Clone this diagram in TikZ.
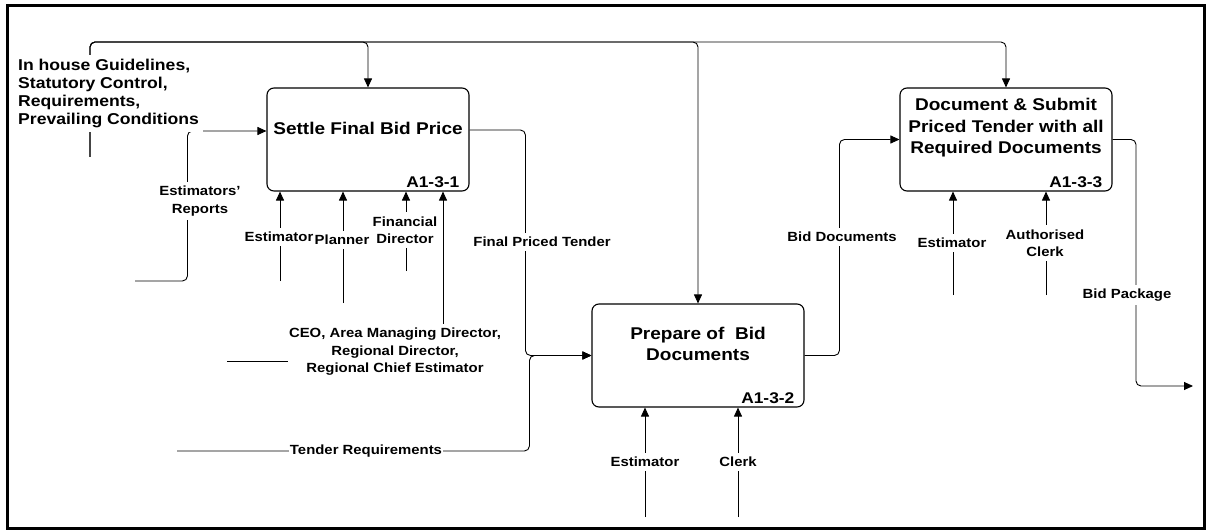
\documentclass[tikz,border=0pt]{standalone}
\usepackage{fontspec}
\setmainfont[FakeStretch=1.12]{Liberation Sans}
\usetikzlibrary{arrows.meta,calc}

\begin{document}
\begin{tikzpicture}[x=1pt,y=-1pt,
        box/.style={draw,rounded corners=7pt,line width=1.1pt,minimum width=#1,minimum height=103pt},
        box/.default=212pt,
        title/.style={font=\fontsize{17}{21.5}\selectfont\bfseries,align=center},
        code/.style={font=\fontsize{15.5}{18}\selectfont\bfseries,anchor=base east,inner sep=0pt},
        lab/.style={font=\fontsize{13.3}{17.5}\selectfont\bfseries,align=center,fill=white,inner xsep=1pt,inner ysep=4pt},
        flow/.style={-{Triangle[length=9pt,width=8pt]},line width=0.9pt,rounded corners=5pt},
        wire/.style={line width=0.9pt,rounded corners=5pt}]

    \useasboundingbox (0,0) rectangle (1211,532);
    \draw[line width=3pt] (7,6) rectangle (1204,528);

    % Activity boxes
    \node[box=202pt] (b1) at (368,139.5) {};
    \node[box] (b2) at (698,355.5) {};
    \node[box] (b3) at (1006,139.5) {};

    \node[title] (t1) at ($(b1)+(0,-11.5)$) {Settle Final Bid Price};
    \node[title] (t2) at ($(b2)+(0,-11.5)$) {Prepare of\ \ Bid\\Documents};
    \node[title] (t3) at ($(b3)+(0,-11.5)$) {Document \& Submit\\Priced Tender with all\\Required Documents};

    \node[code] (c1) at ($(b1.south east)+(-10,-4.5)$) {A1-3-1};
    \node[code] (c2) at ($(b2.south east)+(-10,-4.5)$) {A1-3-2};
    \node[code] (c3) at ($(b3.south east)+(-10,-4.5)$) {A1-3-3};

    % Controls
    \coordinate (ctrl) at (90,157);
    \coordinate (ctop) at (90,42);
    \draw[flow] (ctrl) -- (ctop) -| (b1.north);
    \draw[flow] (ctrl) -- (ctop) -| (b2.north);
    \draw[flow] (ctrl) -- (ctop) -| (b3.north);

    % Inputs and outputs
    \coordinate (rep) at (135,281);
    \coordinate (tend) at (177,451);
    \coordinate (pkg) at (1193,386);
    \draw[flow] (rep) -| ($(b1.west)+(-79,-8.5)$) -- ($(b1.west)+(0,-8.5)$);
    \draw[flow] ($(b1.east)+(0,-9.5)$) -| ([xshift=-66pt]b2.west) -- (b2.west);
    \draw[flow] (tend) -| ([xshift=-62pt]b2.west) -- (b2.west);
    \draw[flow] (b2.east) -| ([xshift=-60pt]b3.west) -- (b3.west);
    \draw[flow] (b3.east) -| ([xshift=-57pt]pkg) -- (pkg);

    % Mechanisms
    \coordinate (est1) at (280,281);
    \coordinate (plan1) at (343,303);
    \coordinate (fin1) at (406,271);
    \coordinate (ceo1) at (443,325);
    \coordinate (est2) at (645,517);
    \coordinate (clerk2) at (738,517);
    \coordinate (est3) at (953,295);
    \coordinate (clerk3) at (1046,295);
    \draw[flow] (est1) -- (est1 |- b1.south);
    \draw[flow] (plan1) -- (plan1 |- b1.south);
    \draw[flow] (fin1) -- (fin1 |- b1.south);
    \draw[flow] (ceo1) -- (ceo1 |- b1.south);
    \draw[flow] (est2) -- (est2 |- b2.south);
    \draw[flow] (clerk2) -- (clerk2 |- b2.south);
    \draw[flow] (est3) -- (est3 |- b3.south);
    \draw[flow] (clerk3) -- (clerk3 |- b3.south);

    % Labels
    \node[lab,font=\fontsize{15.7}{18}\selectfont\bfseries,align=left,anchor=north west,inner sep=4pt] (guide) at (14,55)
        {In house Guidelines,\\Statutory Control,\\Requirements,\\Prevailing Conditions};
    \node[lab] (lrep) at (200,201) {Estimators'\\Reports};
    \node[lab] (lest1) at (279,237) {Estimator};
    \node[lab] (lplan1) at (342,240) {Planner};
    \node[lab] (lfin1) at (405,230) {Financial\\Director};
    \node[lab] (lceo) at (395,352) {CEO, Area Managing Director,\\Regional Director,\\Regional Chief Estimator};
    \node[lab] (lfpt) at (542,242) {Final Priced Tender};
    \node[lab] (ltend) at (366,451) {Tender Requirements};
    \node[lab] (lest2) at (645,462) {Estimator};
    \node[lab] (lclerk2) at (738,462) {Clerk};
    \node[lab] (lbid) at (842,237) {Bid Documents};
    \node[lab] (lest3) at (952,243) {Estimator};
    \node[lab] (lclerk3) at (1045,243) {Authorised\\Clerk};
    \node[lab] (lpkg) at (1127,295) {Bid Package};

    \coordinate (ceoend) at (227,361);
    \draw[wire] (ceoend) -- (ceoend -| lceo.west);

\end{tikzpicture}
\end{document}
